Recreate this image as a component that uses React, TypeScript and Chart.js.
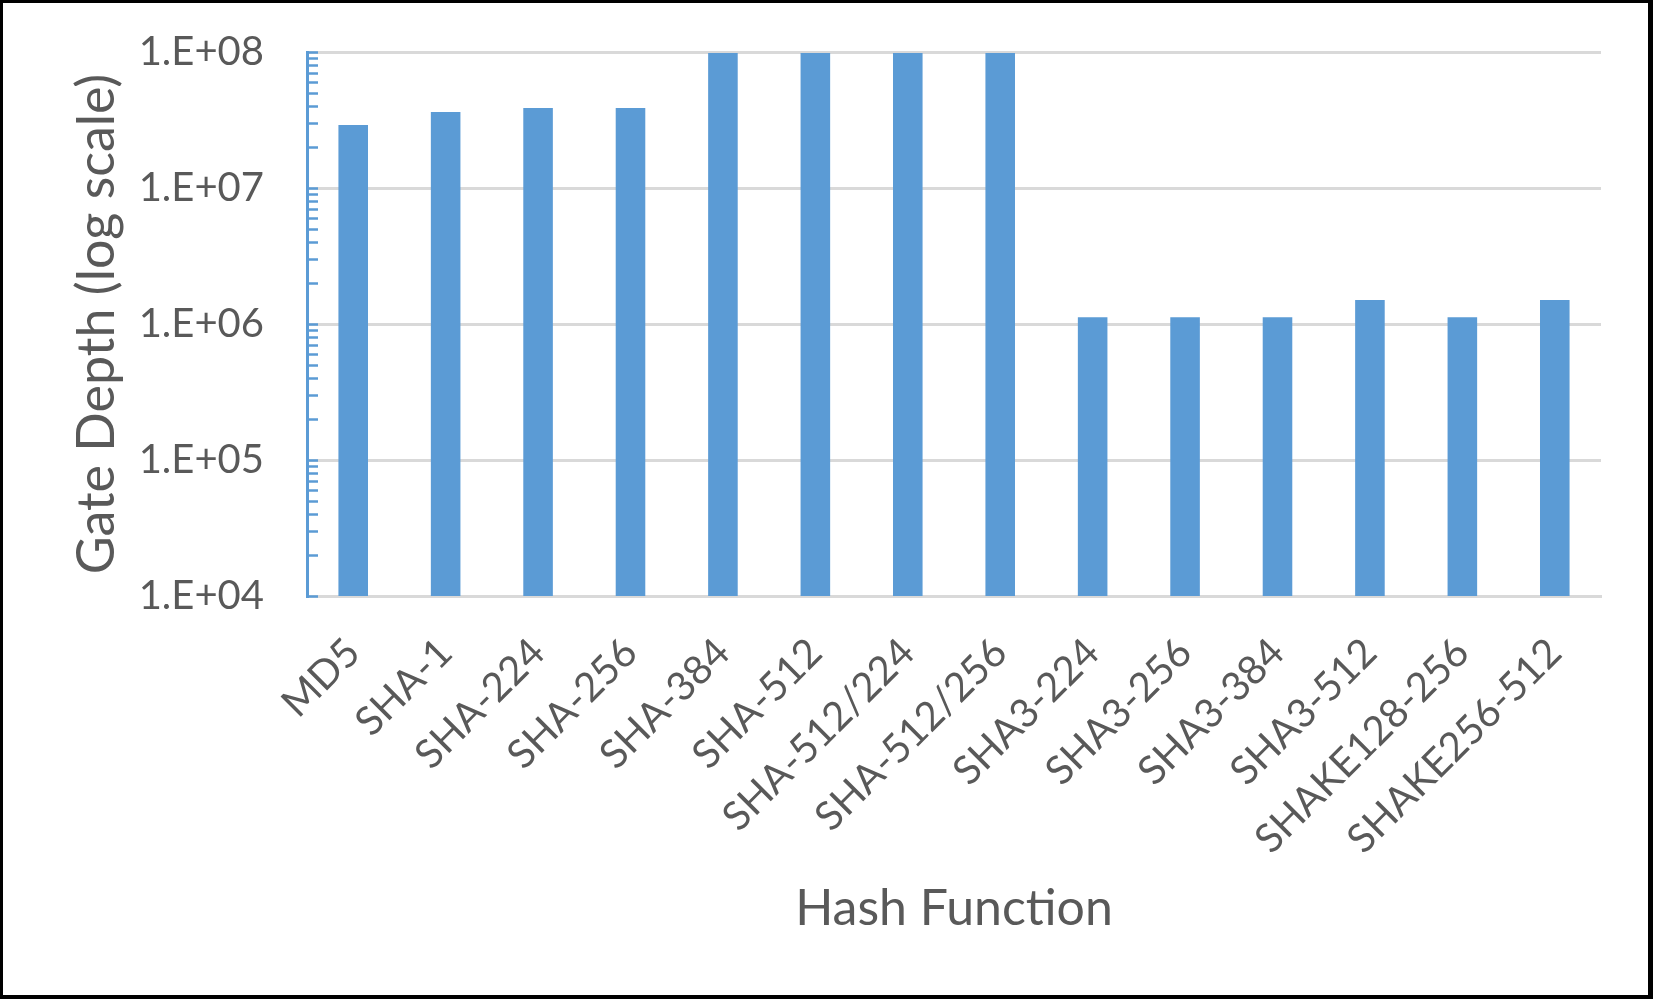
import React, { useEffect, useRef } from 'react';
import { Chart, registerables } from 'chart.js';

Chart.register(...registerables);

const categories = [
  'MD5', 'SHA-1', 'SHA-224', 'SHA-256', 'SHA-384', 'SHA-512', 'SHA-512/224',
  'SHA-512/256', 'SHA3-224', 'SHA3-256', 'SHA3-384', 'SHA3-512', 'SHAKE128-256', 'SHAKE256-512',
];
const gateDepth = [
  2.9e7, 3.62e7, 3.87e7, 3.87e7, 9.85e7, 9.85e7, 9.85e7,
  9.85e7, 1.12e6, 1.12e6, 1.12e6, 1.5e6, 1.12e6, 1.5e6,
];
const majorTicks = [1e4, 1e5, 1e6, 1e7, 1e8];
const majorLabels = ['1.E+04', '1.E+05', '1.E+06', '1.E+07', '1.E+08'];
const minorMultipliers = [2, 3, 4, 5, 6, 7, 8, 9];

const BAR = '#5B9BD5';
const TEXT = '#595959';
const GRID = '#D9D9D9';
const FONT = 'Lato';

const isMajor = (v: number) => majorTicks.some((m) => Math.abs(v - m) / m < 1e-9);

const minorTickPlugin = {
  id: 'minorTicks',
  afterDraw(chart: any) {
    const y = chart.scales.y;
    const ctx = chart.ctx;
    const x0 = chart.chartArea.left;
    ctx.save();
    ctx.strokeStyle = BAR;
    ctx.lineWidth = 2.5;
    for (const t of y.ticks) {
      const py = Math.round(y.getPixelForValue(t.value)) + 0.5;
      ctx.beginPath();
      ctx.moveTo(x0, py);
      ctx.lineTo(x0 + 11, py);
      ctx.stroke();
    }
    ctx.restore();
  },
};

export default function App() {
  const ref = useRef<HTMLCanvasElement | null>(null);

  useEffect(() => {
    document.body.style.margin = '0';
    const canvas = ref.current;
    if (!canvas) return;
    const chart = new Chart(canvas, {
      type: 'bar',
      data: {
        labels: categories,
        datasets: [
          {
            data: gateDepth,
            backgroundColor: BAR,
            barPercentage: 0.32,
            categoryPercentage: 1.0,
          },
        ],
      },
      options: {
        animation: false,
        responsive: false,
        maintainAspectRatio: false,
        layout: { padding: { left: 0, top: 52, right: 52, bottom: 0 } },
        plugins: { legend: { display: false }, tooltip: { enabled: false } },
        scales: {
          x: {
            type: 'category',
            grid: { display: false, drawTicks: false },
            border: { display: true, color: GRID, width: 3 },
            ticks: {
              color: TEXT,
              font: { family: FONT, size: 40 },
              minRotation: 45,
              maxRotation: 45,
              autoSkip: false,
              padding: 33,
            },
            title: {
              display: true,
              text: 'Hash Function',
              color: TEXT,
              font: { family: FONT, size: 50 },
              padding: { top: 0, bottom: 60 },
            },
            afterFit: (s: any) => {
              s.height = 403;
              s.paddingLeft = 0;
              s.paddingRight = 0;
            },
          },
          y: {
            type: 'logarithmic',
            min: 1e4,
            max: 1e8,
            grid: {
              drawTicks: false,
              lineWidth: 3,
              color: (c: any) => (c.tick && isMajor(c.tick.value) ? GRID : 'rgba(0,0,0,0)'),
            },
            border: { display: true, color: BAR, width: 3 },
            afterBuildTicks: (s: any) => {
              const ticks: any[] = [];
              for (let i = 0; i < majorTicks.length; i++) {
                ticks.push({ value: majorTicks[i], major: true });
                if (i < majorTicks.length - 1) {
                  for (const m of minorMultipliers) ticks.push({ value: majorTicks[i] * m, major: false });
                }
              }
              s.ticks = ticks;
            },
            ticks: {
              color: TEXT,
              font: { family: FONT, size: 40 },
              padding: 43,
              autoSkip: false,
              callback: (v: any) => {
                const i = majorTicks.findIndex((m) => Math.abs(Number(v) - m) / m < 1e-9);
                return i >= 0 ? majorLabels[i] : '';
              },
            },
            title: {
              display: true,
              text: 'Gate Depth (log scale)',
              color: TEXT,
              font: { family: FONT, size: 52 },
              padding: { top: 66, bottom: 0 },
            },
            afterFit: (s: any) => {
              s.width = 307;
              s.paddingTop = 0;
              s.paddingBottom = 0;
            },
          },
        },
      },
      plugins: [minorTickPlugin],
    });
    return () => chart.destroy();
  }, []);

  return (
    <div style={{ position: 'relative', width: 1653, height: 999, background: '#fff' }}>
      <canvas ref={ref} width={1653} height={999} style={{ display: 'block', width: 1653, height: 999 }} />
      <div
        style={{
          position: 'absolute',
          left: 0,
          top: 0,
          width: 1653,
          height: 999,
          boxSizing: 'border-box',
          borderStyle: 'solid',
          borderColor: '#000',
          borderWidth: '3px 5px 4px 3px',
          pointerEvents: 'none',
        }}
      />
    </div>
  );
}
